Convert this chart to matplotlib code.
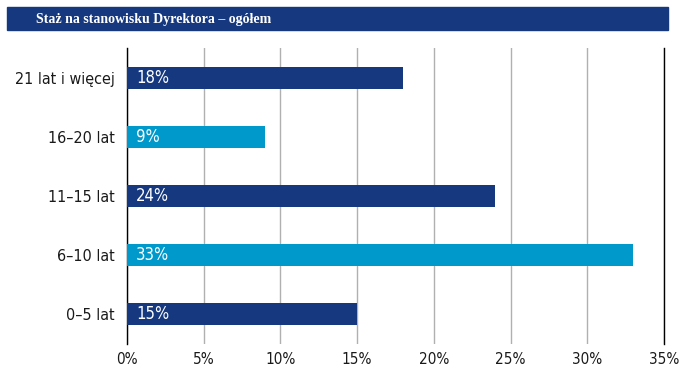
import numpy as np
import matplotlib.pyplot as plt
from matplotlib.patches import Rectangle

# Staż na stanowisku Dyrektora - ogółem

categories = ['0–5 lat', '6–10 lat', '11–15 lat', '16–20 lat', '21 lat i więcej']
values = [15, 33, 24, 9, 18]
bar_colors = ['#15387f', '#0099cc', '#15387f', '#0099cc', '#15387f']
xticks = [0, 5, 10, 15, 20, 25, 30, 35]
title = 'Staż na stanowisku Dyrektora – ogółem'

plt.rcParams['font.family'] = ['DejaVu Sans']
plt.rcParams['font.stretch'] = 'condensed'

fig = plt.figure(figsize=(6.9, 3.9), dpi=100)
ax = fig.add_axes([127 / 690, 1 - 344 / 390, 537 / 690, 296 / 390])

y = np.arange(len(categories))
ax.barh(y, values, height=0.37, color=bar_colors, zorder=3)
for yi, v in zip(y, values):
    ax.text(0.6, yi, '{}%'.format(v), color='white', fontsize=12,
            va='center', ha='left', zorder=4)

ax.set_xlim(0, 35)
ax.set_ylim(-0.5, 4.5)
ax.set_yticks(y)
ax.set_yticklabels(categories, fontsize=11.5, color='#1a1a1a')
ax.set_xticks(xticks)
ax.set_xticklabels(['{}%'.format(x) for x in xticks], fontsize=11, color='#1a1a1a')
ax.tick_params(axis='both', length=0)
ax.tick_params(axis='y', pad=9)
ax.tick_params(axis='x', pad=6)

ax.grid(axis='x', color='#b0b0b0', linewidth=1, zorder=0)
for s in ['top', 'bottom']:
    ax.spines[s].set_visible(False)
for s in ['left', 'right']:
    ax.spines[s].set_color('black')
    ax.spines[s].set_linewidth(1)

# title band
fig.patches.append(Rectangle((7 / 690, 1 - 30 / 390), 661 / 690, 23 / 390,
                             transform=fig.transFigure, color='#15387f'))
fig.text(36 / 690, 1 - 19 / 390, title, color='white', fontsize=10,
         fontweight='bold', family=['Liberation Serif', 'DejaVu Serif'],
         va='center', ha='left')

fig.savefig('out.png', dpi=100)
